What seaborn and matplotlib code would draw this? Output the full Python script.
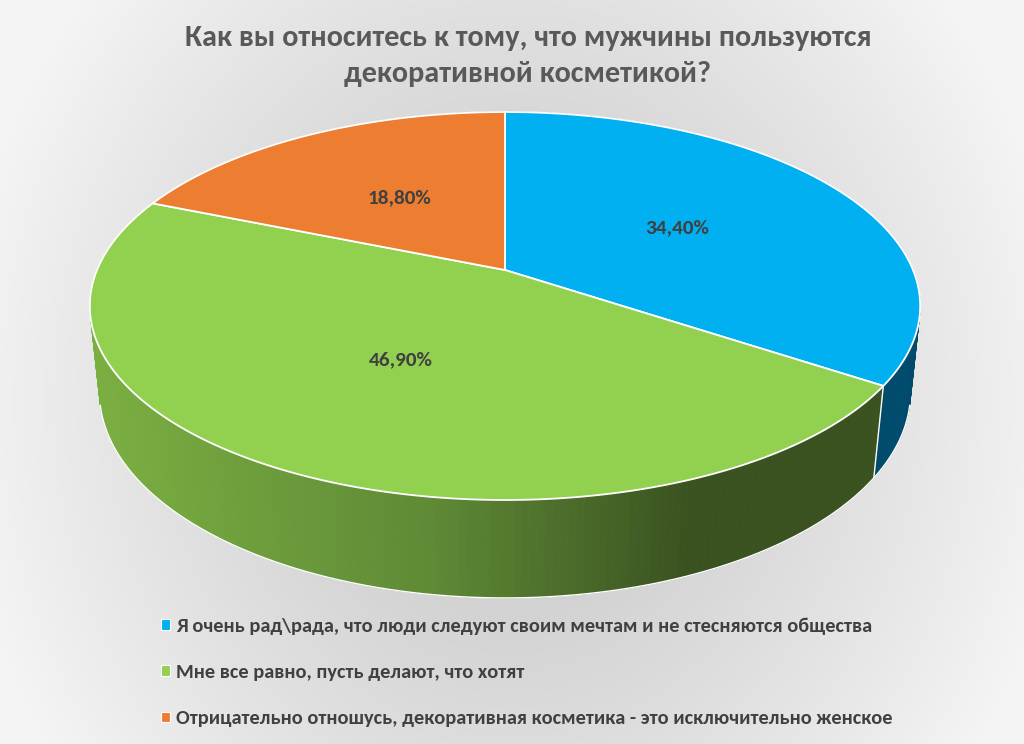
import numpy as np
import matplotlib
matplotlib.use("Agg")
import matplotlib.pyplot as plt
from matplotlib.patches import Polygon, Patch
from matplotlib.collections import PolyCollection
import seaborn as sns

# ---- data ----
title = "Как вы относитесь к тому, что мужчины пользуются\nдекоративной косметикой?"
categories = [
    "Я очень рад\\рада, что люди следуют своим мечтам и не стесняются общества",
    "Мне все равно, пусть делают, что хотят",
    "Отрицательно отношусь, декоративная косметика - это исключительно женское",
]
values = [34.4, 46.9, 18.8]
value_labels = ["34,40%", "46,90%", "18,80%"]

# ---- style ----
sns.set_style("white")
FONT = ["Carlito", "DejaVu Sans"]
plt.rcParams["font.family"] = FONT
top_colors = sns.color_palette(["#00B0F0", "#92D050", "#ED7D31"])
side_colors = ["#004B6C", None, "#7A3D14"]
green_grad_x = [100, 430, 690, 1024]
green_grad_c = [(0x7a, 0xae, 0x41), (0x5f, 0x8a, 0x36), (0x3a, 0x52, 0x20), (0x3a, 0x52, 0x20)]

W, H = 1024, 744
fig = plt.figure(figsize=(W / 100, H / 100), dpi=100)
ax = fig.add_axes([0, 0, 1, 1])
ax.set_xlim(0, W)
ax.set_ylim(H, 0)
ax.axis("off")

# background radial gradient (darker centre, light edges)
gx, gy = np.meshgrid(np.arange(W), np.arange(H))
r = np.sqrt(((gx - 512) / 560.0) ** 2 + ((gy - 400) / 640.0) ** 2)
g = 0.78 + 0.18 * np.clip(r, 0, 1) ** 1.2
ax.imshow(np.dstack([g, g, g]), extent=(0, W, H, 0), zorder=0, aspect="auto")

# ---- 3D projection parameters ----
cx, cy = 505.0, 270.0
sphi, cphi = 0.4591, 0.8884
L, F, hdepth = 4.787, 1953.0, 0.241


def proj(t, Y, rad=1.0):
    u = rad * np.sin(t)
    v = -rad * np.cos(t)
    depth = L - (Y * sphi + v * cphi)
    x = cx + F * u / depth
    y = cy - F * (Y * cphi - v * sphi) / depth
    return x, y


fr = np.array(values) / np.sum(values)
bounds = np.concatenate([[0], np.cumsum(fr)]) * 2 * np.pi

# ---- side walls ----
quads, qcols, qdepth = [], [], []
for i in range(len(values)):
    ts = np.linspace(bounds[i], bounds[i + 1], max(4, int(fr[i] * 400)))
    for a, b in zip(ts[:-1], ts[1:]):
        x1, y1 = proj(a, 0)
        x2, y2 = proj(b, 0)
        x3, y3 = proj(b, -hdepth)
        x4, y4 = proj(a, -hdepth)
        quads.append([(x1, y1), (x2, y2), (x3, y3), (x4, y4)])
        if side_colors[i] is None:
            xm = (x1 + x2) / 2
            c = [np.interp(xm, green_grad_x, [cc[k] for cc in green_grad_c]) / 255 for k in range(3)]
        else:
            c = matplotlib.colors.to_rgb(side_colors[i])
        qcols.append(c)
        qdepth.append(-np.cos((a + b) / 2))
order = np.argsort(qdepth)
pc = PolyCollection([quads[j] for j in order], facecolors=[qcols[j] for j in order],
                    edgecolors=[qcols[j] for j in order], linewidths=0.6, zorder=2)
ax.add_collection(pc)

# white rims on the visible side
tt = np.linspace(0, 2 * np.pi, 1200)
vis = (-np.cos(tt)) * L * cphi > 1.0
bx, by = proj(tt, -hdepth)
bx = np.where(vis, bx, np.nan)
ax.plot(bx, by, color="white", lw=1.0, zorder=3)
tb = bounds[1]
xa, ya = proj(tb, 0)
xb, yb = proj(tb, -hdepth)
ax.plot([xa, xb], [ya, yb], color="white", lw=1.0, zorder=3)

# ---- top face ----
for i in range(len(values)):
    ts = np.linspace(bounds[i], bounds[i + 1], 300)
    xs, ys = proj(ts, 0)
    pts = [(cx, cy)] + list(zip(xs, ys))
    ax.add_patch(Polygon(pts, closed=True, facecolor=top_colors[i], edgecolor="white",
                         lw=1.3, zorder=4))

# ---- value labels ----
for i in range(len(values)):
    tm = (bounds[i] + bounds[i + 1]) / 2
    lx, ly = proj(tm, 0, rad=0.5)
    ax.text(lx, ly, value_labels[i], ha="center", va="center", fontsize=15.3,
            fontweight="bold", color="#404040", zorder=5)

# ---- title ----
ax.text(528, 56, title, ha="center", va="center", fontsize=21.8, fontweight="bold",
        color="#595959", linespacing=1.5, zorder=5)

# ---- legend ----
handles = [Patch(facecolor=top_colors[i], edgecolor="white", lw=0.8) for i in range(len(values))]
leg = ax.legend(handles, categories, loc="upper left", bbox_to_anchor=(143, 599),
                bbox_transform=ax.transData, frameon=False, handlelength=0.4,
                handleheight=0.4, handletextpad=0.3, labelspacing=1.43,
                prop={"family": FONT, "weight": "bold", "size": 14.7})
for t in leg.get_texts():
    t.set_color("#404040")

fig.savefig("out.png", dpi=100)
